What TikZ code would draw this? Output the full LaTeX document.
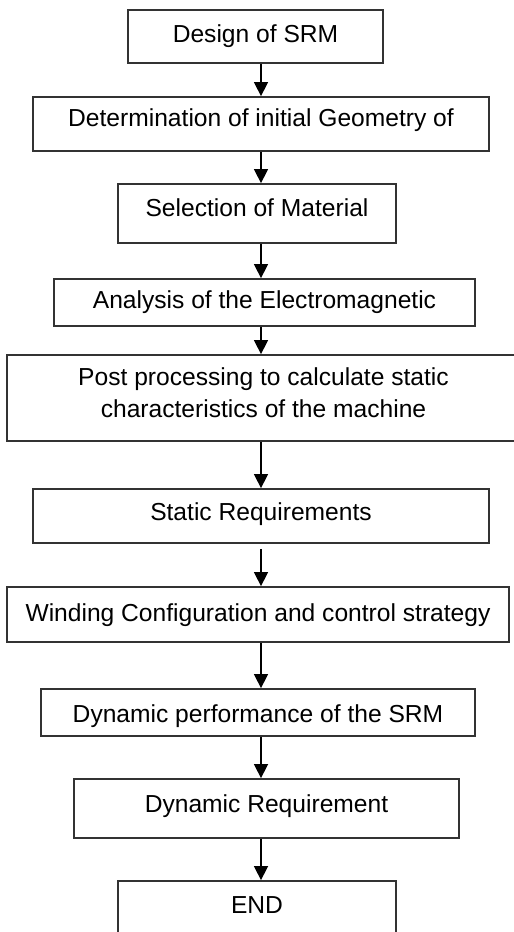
\documentclass[tikz,border=0pt]{standalone}
\usepackage{fontspec}
\setmainfont{Liberation Sans}
\usetikzlibrary{arrows.meta}

\begin{document}
\begin{tikzpicture}[
    x=1pt, y=-1pt,
    stepbox/.style={rectangle, draw=black!80, line width=1.8pt, align=center, inner sep=0pt,
        text height=18pt, text depth=5pt, font=\fontsize{24.6}{32}\selectfont},
    lift/.style={text depth=#1},
    drop/.style={text height=#1},
    arrow/.style={-{Triangle[width=14pt, length=14pt]}, line width=1.5pt}
]
    % Page frame
    \useasboundingbox (0,0) rectangle (514,932);
    \clip (0,0) rectangle (514,932);

    % Common axis of the connectors
    \coordinate (axis) at (261,0);

    % Nodes
    \node[stepbox, minimum width=255pt, minimum height=53pt, lift=6.5pt] (design) at (255.5,36.5) {Design of SRM};
    \node[stepbox, minimum width=456pt, minimum height=54pt, lift=12.5pt] (geom) at (261,124) {Determination of initial Geometry of};
    \node[stepbox, minimum width=278pt, minimum height=59pt, lift=12.5pt] (material) at (257,213.5) {Selection of Material};
    \node[stepbox, minimum width=421pt, minimum height=47pt, lift=5.5pt] (analysis) at (264.5,302.5) {Analysis of the Electromagnetic};
    \node[stepbox, minimum width=513pt, minimum height=86pt, drop=50pt, lift=10.8pt] (post) at (263.5,398)
        {Post processing to calculate static\\characteristics of the machine};
    \node[stepbox, minimum width=456pt, minimum height=54pt, lift=8.5pt] (static) at (261,516) {Static Requirements};
    \node[stepbox, minimum width=502pt, minimum height=55pt] (winding) at (258,614.5) {Winding Configuration and control strategy};
    \node[stepbox, minimum width=434pt, minimum height=47pt, drop=25pt] (dynperf) at (258,712.5) {Dynamic performance of the SRM};
    \node[stepbox, minimum width=385pt, minimum height=59pt, lift=9.5pt] (dynreq) at (266.5,808.5) {Dynamic Requirement};
    \node[stepbox, minimum width=278pt, minimum height=58pt, lift=10.5pt] (finish) at (257,910) {END};

    % Connectors
    \draw[arrow] (design.south -| axis) -- (geom.north -| axis);
    \draw[arrow] (geom.south -| axis) -- (material.north -| axis);
    \draw[arrow] (material.south -| axis) -- (analysis.north -| axis);
    \draw[arrow] (analysis.south -| axis) -- (post.north -| axis);
    \draw[arrow] (post.south -| axis) -- (static.north -| axis);
    \draw[arrow, shorten <=5pt] (static.south -| axis) -- (winding.north -| axis);
    \draw[arrow] (winding.south -| axis) -- (dynperf.north -| axis);
    \draw[arrow] (dynperf.south -| axis) -- (dynreq.north -| axis);
    \draw[arrow] (dynreq.south -| axis) -- (finish.north -| axis);

\end{tikzpicture}
\end{document}
